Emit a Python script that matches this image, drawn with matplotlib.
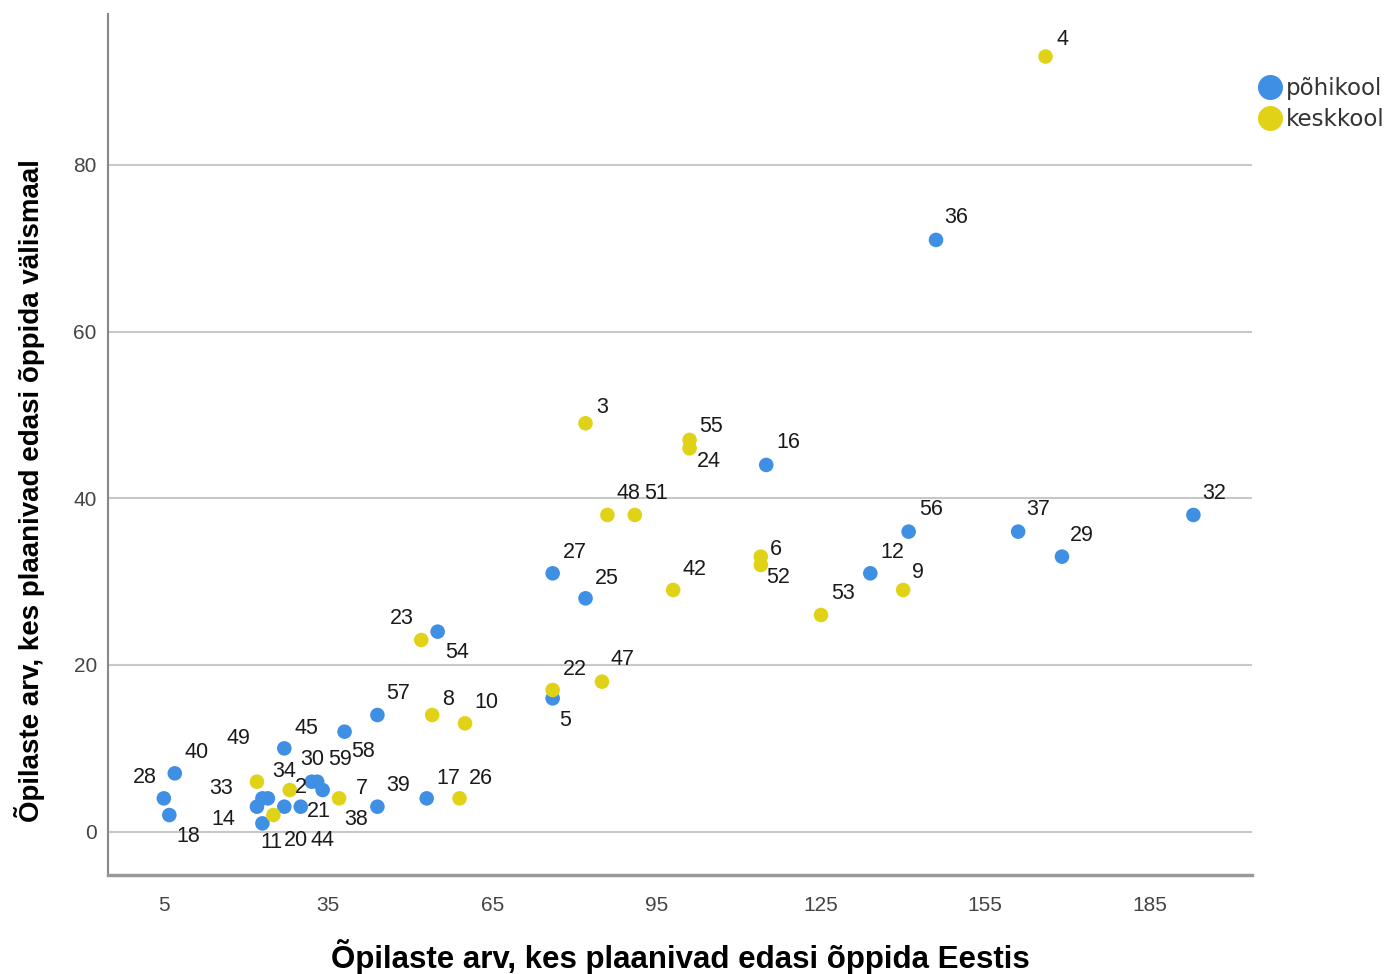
import numpy as np
import matplotlib
matplotlib.use('Agg')
import matplotlib.pyplot as plt
from matplotlib.lines import Line2D

# põhikool (sinised punktid)
pohi_id = [36, 16, 32, 56, 37, 29, 12, 27, 25, 54, 5, 57, 58, 45, 40, 28, 18, 39, 17,
           14, 33, 34, 44, 11, 21, 30, 59, 7]
pohi_eestis = [146, 115, 193, 141, 161, 169, 134, 76, 82, 55, 76, 44, 38, 27, 7, 5, 6, 44, 53,
               22, 23, 24, 27, 23, 30, 32, 33, 34]
pohi_valismaal = [71, 44, 38, 36, 36, 33, 31, 31, 28, 24, 16, 14, 12, 10, 7, 4, 2, 3, 4,
                  3, 4, 4, 3, 1, 3, 6, 6, 5]

# keskkool (kollased punktid)
kesk_id = [4, 3, 55, 24, 48, 51, 6, 52, 42, 53, 9, 23, 22, 47, 8, 10, 26, 38, 2, 49, 20]
kesk_eestis = [166, 82, 101, 101, 86, 91, 114, 114, 98, 125, 140, 52, 76, 85, 54, 60, 59, 37, 28, 22, 25]
kesk_valismaal = [93, 49, 47, 46, 38, 38, 33, 32, 29, 26, 29, 23, 17, 18, 14, 13, 4, 4, 5, 6, 2]

x_ticks = [5, 35, 65, 95, 125, 155, 185]
y_ticks = [0, 20, 40, 60, 80]

# sildi nihe punkti suhtes (pikslites, y üles)
pohi_nihe = [(20, 22), (22, 22), (21, 21), (22, 22), (20, 22), (20, 21), (22, 21), (22, 21), (21, 20),
             (19, -21), (12, -22), (21, 22), (18, -20), (22, 20), (22, 21), (-19, 21), (19, -21),
             (21, 21), (22, 20),
             (-34, -13), (-41, 10), (16, 27), (38, -34), (9, -19), (18, -5), (1, 22), (23, 22), (39, 2)]
kesk_nihe = [(17, 17), (17, 16), (21, 13), (19, -13), (21, 21), (21, 21), (15, 7), (17, -13), (21, 20),
             (22, 21), (15, 17), (-19, 21), (22, 21), (21, 22), (16, 16), (21, 21), (21, 20),
             (17, -21), (11, 3), (-18, 43), (23, -25)]

sinine = '#3f8fe5'
kollane = '#e0d317'

fig = plt.figure(figsize=(13.95, 9.74), dpi=100)
ax = fig.add_axes([0.0774, 0.1016, 0.8201, 0.884])

for yt in y_ticks:
    ax.axhline(yt, color='#c8c8c8', lw=1.5, zorder=1)

ax.scatter(pohi_eestis, pohi_valismaal, s=110, color=sinine, edgecolors='none', zorder=3)
ax.scatter(kesk_eestis, kesk_valismaal, s=110, color=kollane, edgecolors='none', zorder=4)

for xs, ys, ids, nihe in [(pohi_eestis, pohi_valismaal, pohi_id, pohi_nihe),
                          (kesk_eestis, kesk_valismaal, kesk_id, kesk_nihe)]:
    for x, y, i, (dx, dy) in zip(xs, ys, ids, nihe):
        ax.annotate(str(i), (x, y), xytext=(dx, dy), textcoords='offset pixels',
                    ha='center', va='center', fontsize=15.5, family='Liberation Sans',
                    color='#1a1a1a', zorder=5)

ax.set_xlim(-5.2, 203.7)
ax.set_ylim(-5.2, 98.1)
ax.set_xticks(x_ticks)
ax.set_yticks(y_ticks)
ax.tick_params(length=0, labelsize=15, labelcolor='#444444')
ax.tick_params(axis='x', pad=15)
ax.tick_params(axis='y', pad=8)
for lab in ax.get_xticklabels() + ax.get_yticklabels():
    lab.set_family('Liberation Sans')

for s in ['top', 'right']:
    ax.spines[s].set_visible(False)
ax.spines['left'].set_color('#888888')
ax.spines['left'].set_linewidth(1.5)
ax.spines['bottom'].set_color('#999999')
ax.spines['bottom'].set_linewidth(2.5)

ax.set_xlabel('Õpilaste arv, kes plaanivad edasi õppida Eestis', fontsize=22.5,
              fontweight='bold', family='Liberation Sans')
ax.set_ylabel('Õpilaste arv, kes plaanivad edasi õppida välismaal', fontsize=20,
              fontweight='bold', family='Liberation Sans')
ax.xaxis.set_label_coords(0.5, -0.074)
ax.yaxis.set_label_coords(-0.055, 0.446)

kasitsejad = [Line2D([], [], marker='o', ls='none', markersize=17, color=sinine, label='põhikool'),
              Line2D([], [], marker='o', ls='none', markersize=17, color=kollane, label='keskkool')]
fig.legend(handles=kasitsejad, loc='upper left', bbox_to_anchor=(0.892, 0.933), frameon=False,
           fontsize=16.5, handletextpad=0.1, labelspacing=0.35, borderpad=0, handlelength=1.2,
           labelcolor='#333333')

fig.savefig('out.png', dpi=100)
